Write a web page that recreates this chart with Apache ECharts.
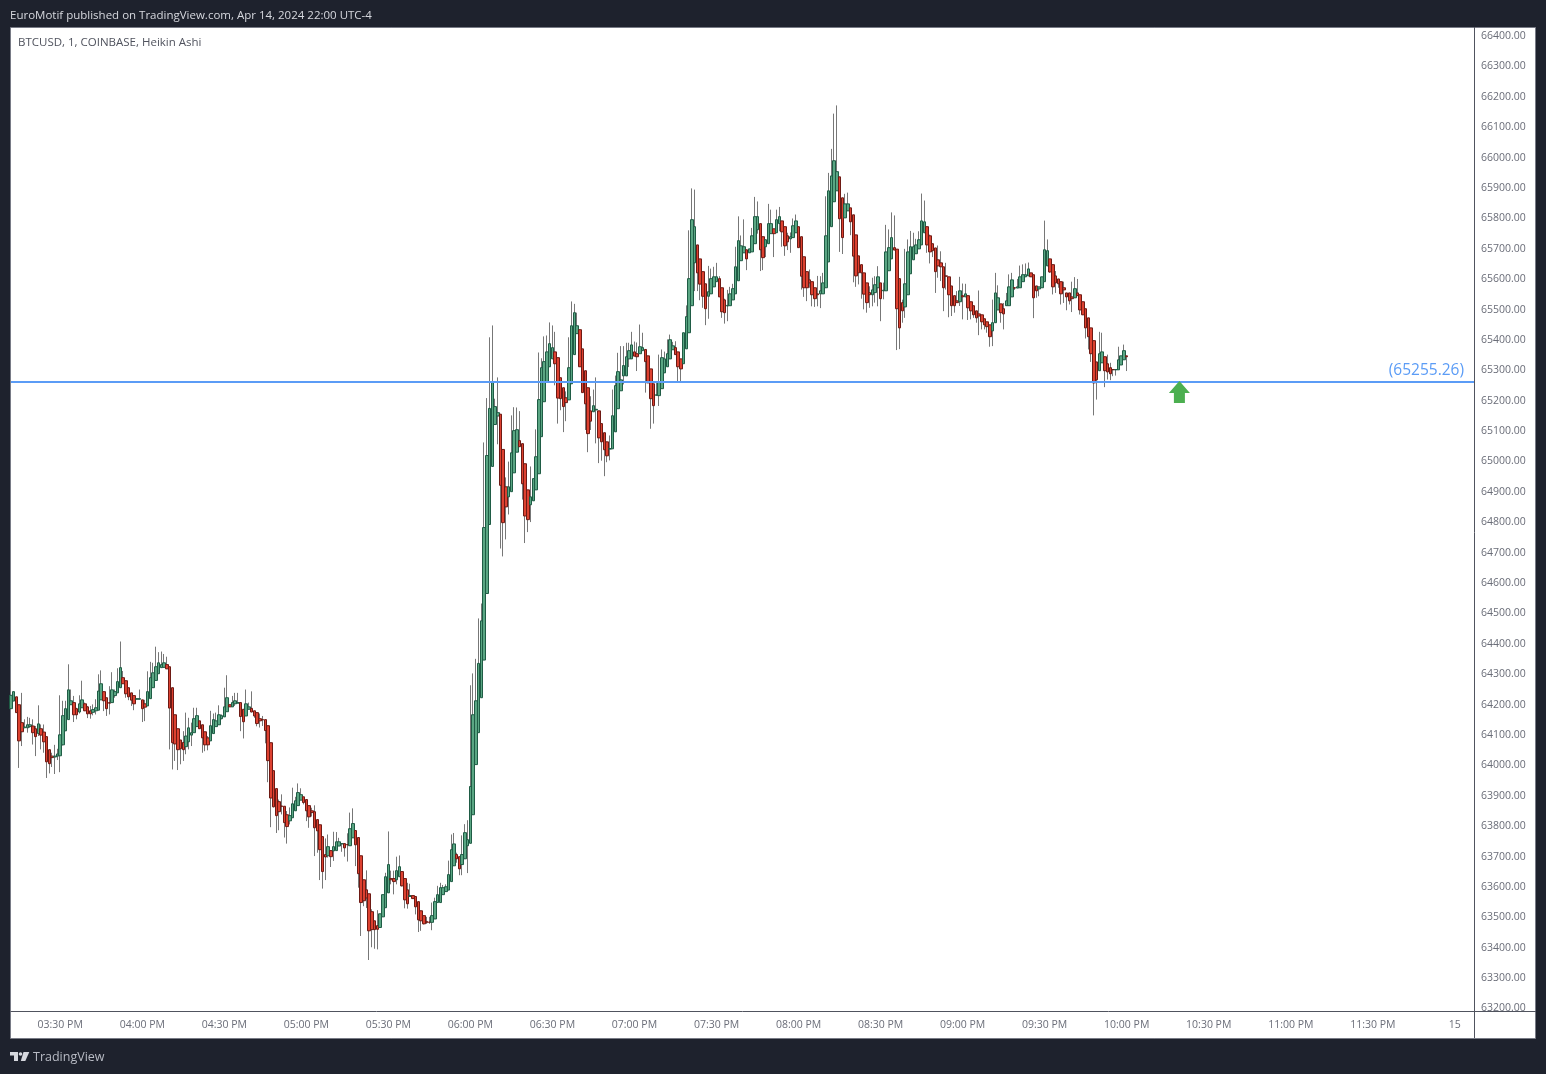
<!DOCTYPE html>
<html>
<head>
<meta charset="utf-8">
<title>BTCUSD Heikin Ashi</title>
<script src="https://cdn.jsdelivr.net/npm/echarts@6/dist/echarts.min.js"></script>
<style>html,body{margin:0;padding:0;background:#1e222d}#c{width:1546px;height:1074px}</style>
</head>
<body>
<div id="c"></div>
<script>
const opens = [
64180,64205,64219,64193,64134,64117,64117,64121,64123,64114,
64098,64114,64103,64088,64045,64024,64021,64024,64025,64061,
64107,64144,64193,64200,64180,64169,64183,64196,64186,64173,
64168,64173,64175,64209,64236,64216,64200,64200,64223,64232,
64249,64282,64272,64249,64232,64223,64211,64211,64209,64196,
64189,64213,64249,64273,64295,64315,64316,64325,64318,64249,
64160,64114,64077,64069,64055,64071,64093,64101,64121,64140,
64127,64104,64084,64074,64098,64121,64127,64147,64153,64170,
64193,64186,64196,64198,64200,64178,64156,64178,64181,64173,
64167,64147,64144,64144,64124,64068,63976,63917,63874,63860,
63859,63831,63811,63821,63844,63861,63879,63890,63881,63861,
63844,63841,63815,63798,63759,63700,63696,63713,63712,63713,
63728,63735,63736,63733,63729,63755,63779,63756,63696,63617,
63584,63571,63512,63482,63466,63460,63495,63525,63574,63621,
63621,63617,63627,63644,63621,63584,63562,63565,63562,63545,
63515,63499,63480,63478,63477,63488,63542,63542,63568,63578,
63583,63611,63663,63700,63693,63667,63686,63729,63737,63831,
63996,64101,64216,64340,64559,64786,64977,65115,65143,65149,
65033,64910,64877,64894,64956,65024,65062,65052,64986,64900,
64851,64864,64900,64953,65075,65190,65254,65305,65331,65354,
65335,65269,65236,65203,65196,65249,65345,65414,65427,65364,
65292,65236,65160,65157,65163,65160,65118,65088,65058,65034,
65035,65091,65167,65226,65275,65275,65331,65331,65354,65348,
65348,65358,65362,65341,65298,65249,65211,65210,65233,65285,
65305,65331,65361,65368,65354,65331,65315,65364,65417,65506,
65647,65706,65660,65618,65578,65537,65545,65568,65585,65595,
65565,65525,65505,65506,65525,65545,65588,65654,65680,65690,
65680,65683,65710,65756,65776,65733,65700,65710,65743,65759,
65746,65776,65785,65766,65736,65726,65730,65746,65766,65733,
65667,65618,65591,65585,65565,65545,65545,65545,65565,65650,
65766,65848,65884,65930,65861,65795,65818,65828,65805,65739,
65670,65641,65614,65581,65549,65542,65549,65565,65581,65555,
65555,65621,65660,65697,65692,65595,65516,65502,65542,65611,
65657,65677,65693,65706,65746,65766,65736,65710,65696,65657,
65647,65634,65604,65601,65571,65539,65522,65519,65539,65535,
65539,65519,65506,65489,65479,65476,65463,65453,65443,65423,
65450,65492,65512,65496,65506,65506,65535,65565,65564,65565,
65585,65601,65604,65614,65608,65571,65561,65565,65585,65637,
65660,65641,65604,65594,65585,65565,65548,65548,65535,65532,
65548,65542,65519,65496,65466,65433,65391,65321,65292,65318,
65338,65315,65302,65296,65295,65295,65311,65328,65341];
const closes = [
64224,64236,64167,64074,64104,64120,64127,64127,64101,64088,
64130,64093,64071,64005,63999,64019,64024,64031,64094,64157,
64180,64242,64206,64160,64160,64196,64209,64173,64163,64163,
64177,64183,64238,64262,64206,64180,64198,64242,64236,64269,
64315,64262,64229,64219,64208,64196,64213,64213,64180,64185,
64236,64282,64298,64318,64331,64325,64331,64311,64182,64068,
64064,64045,64048,64045,64090,64117,64101,64147,64157,64114,
64084,64061,64061,64124,64144,64140,64160,64157,64186,64216,
64186,64200,64206,64200,64154,64137,64196,64186,64169,64156,
64131,64140,64143,64108,64009,63886,63857,63828,63841,63858,
63805,63792,63828,63867,63877,63904,63897,63871,63844,63824,
63838,63788,63778,63716,63644,63692,63726,63693,63726,63742,
63742,63736,63722,63732,63785,63802,63732,63637,63542,63548,
63557,63449,63453,63453,63454,63505,63568,63627,63667,63617,
63611,63647,63660,63597,63551,63538,63565,63555,63528,63485,
63482,63472,63476,63477,63499,63545,63568,63591,63591,63594,
63634,63716,63735,63686,63653,63700,63772,63749,63924,64160,
64206,64329,64469,64776,65013,65168,65253,65174,65154,64915,
64792,64844,64910,65022,65095,65098,65042,64920,64814,64802,
64877,64937,65009,65197,65302,65322,65354,65381,65368,65315,
65202,65200,65174,65187,65302,65440,65483,65440,65305,65220,
65183,65085,65126,65177,65165,65071,65058,65032,65012,65036,
65144,65243,65289,65262,65309,65338,65358,65377,65340,65338,
65371,65368,65322,65252,65200,65177,65213,65256,65335,65331,
65348,65394,65374,65345,65305,65298,65417,65470,65595,65789,
65766,65614,65577,65537,65496,65552,65595,65601,65601,65535,
65486,65483,65507,65545,65562,65634,65720,65703,65700,65660,
65693,65736,65799,65799,65690,65664,65723,65776,65776,65743,
65789,65799,65749,65703,65716,65733,65769,65785,65697,65603,
65565,65565,65581,65542,65529,65542,65555,65581,65736,65884,
65933,65983,65947,65792,65730,65841,65841,65782,65669,65604,
65614,65614,65544,65516,65542,65558,65575,65601,65529,65557,
65683,65697,65730,65689,65496,65433,65489,65578,65683,65700,
65700,65706,65723,65785,65782,65706,65683,65687,65618,65637,
65634,65565,65603,65542,65506,65506,65516,65555,65535,65545,
65499,65489,65476,65466,65472,65453,65443,65437,65404,65450,
65548,65532,65483,65479,65522,65568,65591,65564,65568,65601,
65608,65608,65627,65601,65532,65555,65568,65601,65690,65687,
65617,65568,65581,65578,65545,65558,65535,65522,65529,65562,
65539,65492,65476,65433,65404,65348,65252,65262,65348,65354,
65292,65288,65282,65295,65296,65328,65341,65358,65338];
const lows = [
64180,64205,64167,63985,64057,64117,64101,64117,64062,64024,
64090,64046,64035,63952,63967,63988,63965,64011,63971,64059,
64107,64144,64193,64136,64145,64164,64183,64172,64149,64147,
64158,64161,64175,64209,64172,64156,64161,64200,64216,64232,
64249,64262,64216,64208,64189,64175,64211,64211,64136,64139,
64189,64213,64249,64273,64295,64315,64315,64311,64046,63980,
64008,63978,63997,64008,64030,64046,64057,64101,64121,64114,
64035,64040,64043,64074,64098,64121,64127,64145,64153,64170,
64186,64186,64189,64198,64106,64082,64156,64178,64168,64150,
64122,64118,64123,64066,63938,63790,63855,63771,63780,63832,
63756,63736,63799,63821,63844,63861,63879,63865,63810,63788,
63825,63695,63706,63616,63588,63616,63690,63659,63679,63713,
63728,63709,63693,63677,63729,63755,63662,63591,63432,63530,
63524,63353,63395,63390,63388,63460,63495,63525,63574,63602,
63569,63602,63627,63595,63523,63522,63562,63555,63503,63445,
63449,63470,63472,63472,63451,63488,63542,63542,63568,63578,
63583,63611,63663,63673,63632,63632,63686,63639,63737,63831,
63996,64101,64216,64340,64559,64786,64977,65115,65050,64707,
64681,64737,64819,64894,64956,65024,65042,64868,64725,64761,
64794,64864,64900,64953,65075,65190,65254,65305,65331,65244,
65118,65162,65090,65126,65196,65249,65345,65414,65305,65220,
65097,65024,65097,65157,65053,64988,64996,64945,64991,64997,
65035,65091,65167,65226,65247,65275,65304,65331,65340,65291,
65348,65358,65220,65252,65101,65118,65211,65176,65233,65285,
65305,65331,65361,65345,65258,65258,65315,65364,65417,65506,
65554,65554,65524,65499,65442,65463,65545,65568,65585,65535,
65466,65447,65455,65506,65525,65545,65588,65654,65680,65623,
65680,65683,65710,65743,65620,65623,65666,65710,65743,65666,
65746,65751,65700,65670,65689,65680,65730,65746,65697,65559,
65535,65521,65565,65504,65502,65504,65498,65545,65565,65650,
65766,65848,65884,65683,65676,65795,65818,65738,65583,65568,
65576,65529,65494,65483,65499,65504,65516,65504,65455,65527,
65555,65621,65660,65689,65360,65363,65450,65466,65542,65611,
65657,65677,65693,65706,65746,65680,65645,65666,65548,65598,
65587,65488,65559,65468,65472,65483,65516,65505,65461,65535,
65459,65461,65466,65450,65409,65428,65428,65417,65371,65373,
65450,65492,65450,65428,65506,65506,65535,65558,65564,65565,
65585,65601,65604,65601,65465,65532,65537,65565,65585,65637,
65614,65543,65548,65565,65510,65515,65491,65510,65485,65532,
65539,65477,65475,65398,65362,65321,65145,65197,65292,65318,
65238,65263,65261,65274,65276,65295,65311,65328,65291];
const highs = [
64271,64236,64219,64193,64232,64145,64153,64150,64145,64123,
64191,64128,64128,64088,64045,64035,64061,64048,64224,64206,
64206,64326,64243,64222,64183,64224,64272,64200,64189,64189,
64194,64211,64293,64306,64236,64216,64254,64300,64243,64313,
64401,64304,64272,64249,64232,64223,64213,64243,64209,64209,
64303,64334,64331,64384,64366,64368,64360,64351,64318,64249,
64160,64114,64077,64106,64167,64150,64134,64183,64183,64140,
64127,64104,64090,64173,64164,64167,64191,64161,64249,64290,
64193,64222,64232,64232,64200,64178,64243,64200,64237,64173,
64167,64164,64156,64144,64124,64068,63976,63917,63881,63898,
63859,63843,63855,63920,63890,63934,63918,63890,63881,63861,
63854,63862,63815,63798,63759,63753,63766,63713,63775,63774,
63755,63736,63736,63770,63838,63852,63779,63756,63696,63617,
63648,63571,63520,63482,63517,63505,63568,63640,63776,63647,
63647,63693,63697,63644,63621,63607,63604,63565,63562,63545,
63515,63499,63495,63495,63542,63558,63597,63607,63600,63602,
63680,63766,63771,63706,63693,63763,63800,63813,64257,64296,
64344,64477,64526,65056,65202,65402,65441,65200,65270,65149,
65033,64941,64993,65145,65172,65171,65159,65052,64986,64900,
64977,64937,65099,65352,65333,65405,65408,65451,65441,65420,
65335,65269,65236,65224,65402,65520,65512,65483,65427,65364,
65292,65236,65208,65230,65270,65160,65118,65088,65058,65079,
65230,65276,65351,65373,65373,65384,65384,65420,65388,65385,
65444,65417,65362,65341,65298,65249,65253,65345,65362,65355,
65395,65411,65387,65389,65354,65331,65417,65507,65754,65892,
65888,65706,65660,65618,65578,65637,65628,65634,65647,65603,
65565,65529,65558,65568,65578,65700,65800,65737,65790,65690,
65693,65762,65864,65849,65776,65733,65724,65841,65822,65759,
65822,65831,65785,65766,65746,65747,65793,65806,65766,65733,
65667,65618,65625,65585,65565,65604,65603,65614,65866,65943,
66022,66138,66165,65930,65861,65874,65878,65828,65805,65739,
65670,65641,65614,65581,65570,65598,65603,65636,65581,65582,
65772,65757,65813,65803,65692,65595,65526,65693,65724,65752,
65746,65726,65751,65875,65852,65766,65740,65710,65696,65704,
65685,65634,65647,65601,65571,65539,65554,65601,65579,65578,
65539,65519,65506,65489,65556,65476,65463,65453,65443,65526,
65614,65573,65512,65515,65548,65609,65614,65565,65594,65638,
65642,65645,65648,65614,65608,65571,65568,65601,65786,65724,
65660,65641,65620,65594,65585,65585,65548,65548,65585,65600,
65594,65542,65519,65496,65466,65433,65391,65321,65420,65417,
65338,65345,65318,65296,65296,65371,65341,65378,65341];
const levelPrice = 65255.26;
const levelLabel = '(65255.26)';
const arrowTime = '10:20 PM';
const headerText = 'EuroMotif published on TradingView.com, Apr 14, 2024 22:00 UTC-4';
const symbolText = 'BTCUSD, 1, COINBASE, Heikin Ashi';
const brandText = 'TradingView';
const dayLabel = '15';

const START_MIN = 15 * 60 + 12;
const SLOT_COUNT = 536;
const FONT = '"Open Sans","Noto Sans",sans-serif';

function minuteLabel(m) {
  const d = m % 1440;
  if (d === 0) return dayLabel;
  const h = Math.floor(d / 60), mm = d % 60;
  const h12 = h % 12 === 0 ? 12 : h % 12;
  return String(h12).padStart(2, '0') + ':' + String(mm).padStart(2, '0') + (h >= 12 ? ' PM' : ' AM');
}
const categories = [];
for (let i = 0; i < SLOT_COUNT; i++) categories.push(minuteLabel(START_MIN + i));

const wickData = opens.map((o, i) => [o, closes[i], lows[i], highs[i]]);
const bodyData = opens.map((o, i) => [o, closes[i], Math.min(o, closes[i]), Math.max(o, closes[i])]);

const DARK = '#1e222d', EDGE = '#787b86', AXIS = '#50535e';

const chart = echarts.init(document.getElementById('c'), null, { renderer: 'canvas' });
chart.setOption({
  animation: false,
  backgroundColor: DARK,
  grid: { left: 11, right: 72, top: 34, bottom: 67.5, containLabel: false },
  xAxis: {
    type: 'category', data: categories, boundaryGap: false, offset: 4.5,
    axisLine: { show: true, lineStyle: { color: AXIS, width: 1 } },
    axisTick: { show: false }, splitLine: { show: false },
    axisLabel: {
      color: '#6a6d78', fontFamily: FONT, fontSize: 10.5, margin: 8.5,
      hideOverlap: false,
      interval: (i) => (START_MIN + i) % 30 === 0
    }
  },
  yAxis: {
    type: 'value', position: 'right', min: 63200, max: 66400, interval: 100,
    axisLine: { show: false }, axisTick: { show: false }, splitLine: { show: false },
    axisLabel: { color: '#6a6d78', fontFamily: FONT, fontSize: 10.5, margin: 7, verticalAlign: 'top', lineHeight: 4, formatter: (v) => v.toFixed(2) }
  },
  graphic: [
    { type: 'rect', z: -10, silent: true, shape: { x: 10.5, y: 27.5, width: 1525, height: 1011 }, style: { fill: '#ffffff', stroke: EDGE, lineWidth: 1 } },
    { type: 'line', z: 1, silent: true, shape: { x1: 1474.5, y1: 27, x2: 1474.5, y2: 1038 }, style: { stroke: AXIS, lineWidth: 1 } },
    { type: 'line', z: 1, silent: true, shape: { x1: 1474, y1: 1011.5, x2: 1536, y2: 1011.5 }, style: { stroke: AXIS, lineWidth: 1 } },
    { type: 'text', z: 20, silent: true, style: { x: 10, y: 15.5, text: headerText, fill: '#d6d8de', font: '11.5px ' + FONT, textVerticalAlign: 'middle' } },
    { type: 'text', z: 20, silent: true, style: { x: 18, y: 42.5, text: symbolText, fill: '#50535e', font: '11.5px ' + FONT, textVerticalAlign: 'middle' } },
    { type: 'text', z: 20, silent: true, style: { x: 33, y: 1057, text: brandText, fill: '#b8bbc4', font: '12.5px ' + FONT, textVerticalAlign: 'middle' } },
    { type: 'polygon', z: 20, silent: true, shape: { points: [[10,1052],[18,1052],[18,1061],[14,1061],[14,1055.5],[10,1055.5]] }, style: { fill: '#d6d8de' } },
    { type: 'circle', z: 20, silent: true, shape: { cx: 20.5, cy: 1054, r: 1.8 }, style: { fill: '#d6d8de' } },
    { type: 'polygon', z: 20, silent: true, shape: { points: [[23.5,1052],[29.3,1052],[25.3,1061],[20.8,1061]] }, style: { fill: '#d6d8de' } }
  ],
  series: [
    {
      name: 'wicks', type: 'candlestick', data: wickData, barWidth: 1, z: 2, silent: true,
      itemStyle: { color: '#777777', color0: '#777777', borderColor: '#777777', borderColor0: '#777777', borderColorDoji: '#777777', borderWidth: 1 }
    },
    {
      name: 'BTCUSD', type: 'candlestick', data: bodyData, barWidth: 3, z: 3, silent: true,
      itemStyle: { color: '#5aa683', color0: '#dd4130', borderColor: '#1f5c45', borderColor0: '#6e1a14', borderColorDoji: '#1f5c45', borderWidth: 1 },
      markLine: {
        silent: true, symbol: 'none', animation: false,
        lineStyle: { color: '#5b9cf6', width: 2, type: 'solid' },
        label: { show: true, position: 'insideEndTop', formatter: levelLabel, color: '#5b9cf6', fontFamily: FONT, fontSize: 15.5, distance: [10, 3] },
        data: [{ yAxis: levelPrice }]
      },
      markPoint: {
        silent: true, animation: false,
        symbol: 'path://M10.5 0 L21 12 L16 12 L16 22 L5 22 L5 12 L0 12 Z',
        symbolSize: [21, 22], symbolOffset: [-2, 10],
        itemStyle: { color: '#4caf50' }, label: { show: false },
        data: [{ coord: [arrowTime, levelPrice] }]
      }
    }
  ]
});
</script>
</body>
</html>
